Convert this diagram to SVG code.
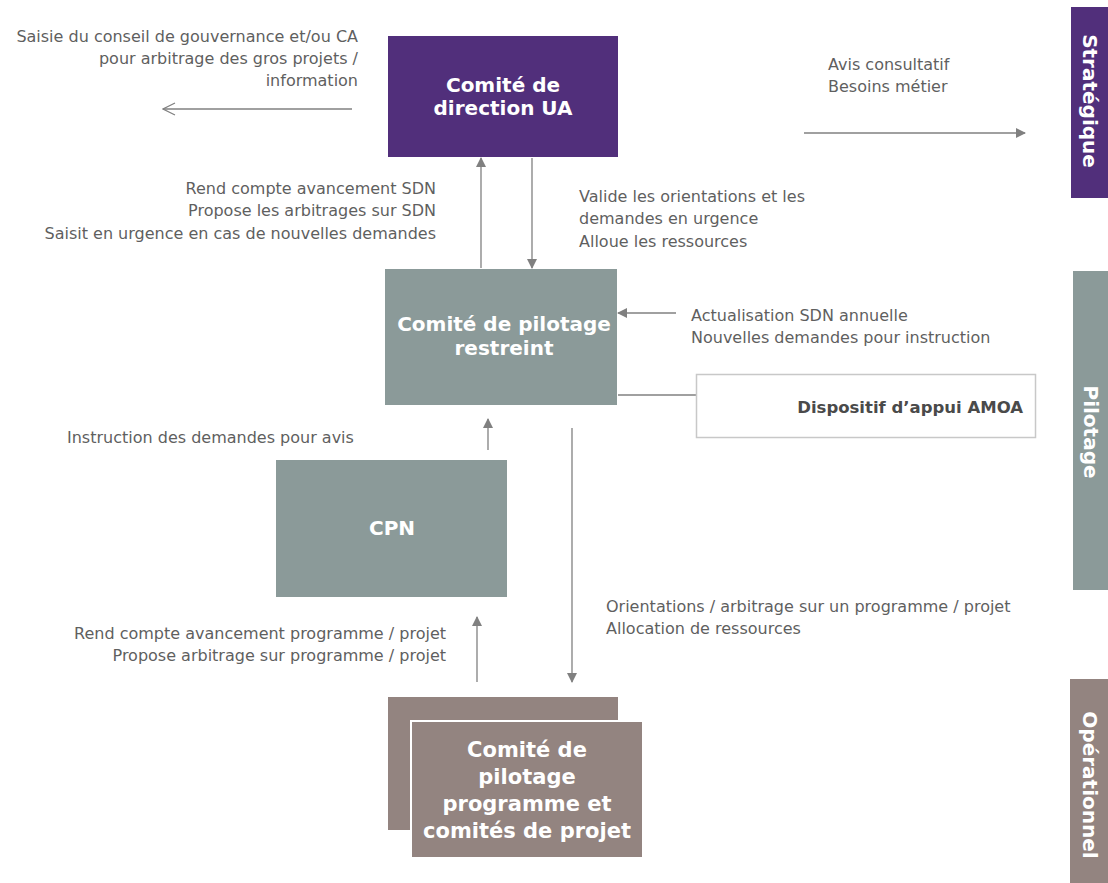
<svg xmlns="http://www.w3.org/2000/svg" width="1108" height="883" viewBox="0 0 1108 883">
<style>
.t{font-family:"DejaVu Sans",sans-serif;font-size:16px;fill:#5f5f5f}
.r{text-anchor:end}
.b{font-family:"DejaVu Sans",sans-serif;font-size:20px;font-weight:bold;fill:#ffffff;text-anchor:middle}
.band{font-family:"DejaVu Sans",sans-serif;font-size:20px;font-weight:bold;fill:#ffffff;text-anchor:middle}
.ln{stroke:#808080;stroke-width:1.3;fill:none}
</style>
<defs>
<marker id="tri" markerWidth="10" markerHeight="10" refX="9" refY="5" orient="auto" markerUnits="userSpaceOnUse" viewBox="0 0 10 10">
<path d="M0,0 L10,5 L0,10 Z" fill="#808080"/>
</marker>
<marker id="open" markerWidth="14" markerHeight="14" refX="13" refY="7" orient="auto" markerUnits="userSpaceOnUse" viewBox="0 0 14 14">
<path d="M1,1 L13,7 L1,13" fill="none" stroke="#808080" stroke-width="1.2"/>
</marker>
</defs>
<rect width="1108" height="883" fill="#ffffff"/>

<g id="band-strategique">
<rect x="1071" y="7" width="37" height="191" fill="#512f7b"/>
<text class="band" transform="translate(1083 101) rotate(90)">Stratégique</text>
</g>
<g id="band-pilotage">
<rect x="1073" y="271" width="35" height="319" fill="#8b9a99"/>
<text class="band" transform="translate(1084 432) rotate(90)">Pilotage</text>
</g>
<g id="band-operationnel">
<rect x="1070" y="679" width="38" height="204" fill="#938480"/>
<text class="band" transform="translate(1083 785) rotate(90)">Opérationnel</text>
</g>

<g id="connectors">
<line class="ln" x1="352" y1="109" x2="163" y2="109" marker-end="url(#open)"/>
<line class="ln" x1="804" y1="133" x2="1025" y2="133" marker-end="url(#tri)"/>
<line class="ln" x1="481" y1="268" x2="481" y2="158" marker-end="url(#tri)"/>
<line class="ln" x1="532" y1="158" x2="532" y2="268" marker-end="url(#tri)"/>
<line class="ln" x1="676" y1="313" x2="618" y2="313" marker-end="url(#tri)"/>
<line class="ln" x1="618" y1="395" x2="696" y2="395"/>
<line class="ln" x1="488" y1="450" x2="488" y2="419" marker-end="url(#tri)"/>
<line class="ln" x1="572" y1="428" x2="572" y2="682" marker-end="url(#tri)"/>
<line class="ln" x1="477" y1="682" x2="477" y2="617" marker-end="url(#tri)"/>
</g>

<g id="node-direction">
<rect x="388" y="36" width="230" height="121" fill="#512f7b"/>
<text class="b" x="503" y="92">Comité de</text>
<text class="b" x="503" y="115">direction UA</text>
</g>
<g id="node-copil-restreint">
<rect x="385" y="269" width="232" height="136" fill="#8b9a99"/>
<text class="b" x="504" y="331">Comité de pilotage</text>
<text class="b" x="504" y="355">restreint</text>
</g>
<g id="node-amoa">
<rect x="696.5" y="374.5" width="339" height="63" fill="#ffffff" stroke="#c8c8c8" stroke-width="1.5"/>
<text class="t" x="1023" y="413" style="text-anchor:end;font-weight:bold;font-size:16.5px;fill:#4a4a4a">Dispositif d’appui AMOA</text>
</g>
<g id="node-cpn">
<rect x="276" y="460" width="231" height="137" fill="#8b9a99"/>
<text class="b" x="392" y="535">CPN</text>
</g>
<g id="node-copil-programme">
<rect x="388" y="697" width="230" height="133" fill="#938480"/>
<rect x="411" y="721" width="232" height="137" fill="#938480" stroke="#ffffff" stroke-width="2"/>
<text class="b" x="527" y="757" style="font-size:21px">Comité de</text>
<text class="b" x="527" y="784" style="font-size:21px">pilotage</text>
<text class="b" x="527" y="811" style="font-size:21px">programme et</text>
<text class="b" x="527" y="838" style="font-size:21px">comités de projet</text>
</g>

<g id="labels">
<text class="t r" x="358" y="42">Saisie du conseil de gouvernance et/ou CA</text>
<text class="t r" x="358" y="64">pour arbitrage des gros projets /</text>
<text class="t r" x="358" y="86">information</text>
<text class="t" x="828" y="70">Avis consultatif</text>
<text class="t" x="828" y="92">Besoins métier</text>
<text class="t r" x="436" y="194">Rend compte avancement SDN</text>
<text class="t r" x="436" y="216">Propose les arbitrages sur SDN</text>
<text class="t r" x="436" y="239">Saisit en urgence en cas de nouvelles demandes</text>
<text class="t" x="579" y="202">Valide les orientations et les</text>
<text class="t" x="579" y="224">demandes en urgence</text>
<text class="t" x="579" y="247">Alloue les ressources</text>
<text class="t" x="691" y="321">Actualisation SDN annuelle</text>
<text class="t" x="691" y="343">Nouvelles demandes pour instruction</text>
<text class="t" x="67" y="443">Instruction des demandes pour avis</text>
<text class="t" x="606" y="612">Orientations / arbitrage sur un programme / projet</text>
<text class="t" x="606" y="634">Allocation de ressources</text>
<text class="t r" x="446" y="639">Rend compte avancement programme / projet</text>
<text class="t r" x="446" y="661">Propose arbitrage sur programme / projet</text>
</g>
</svg>
